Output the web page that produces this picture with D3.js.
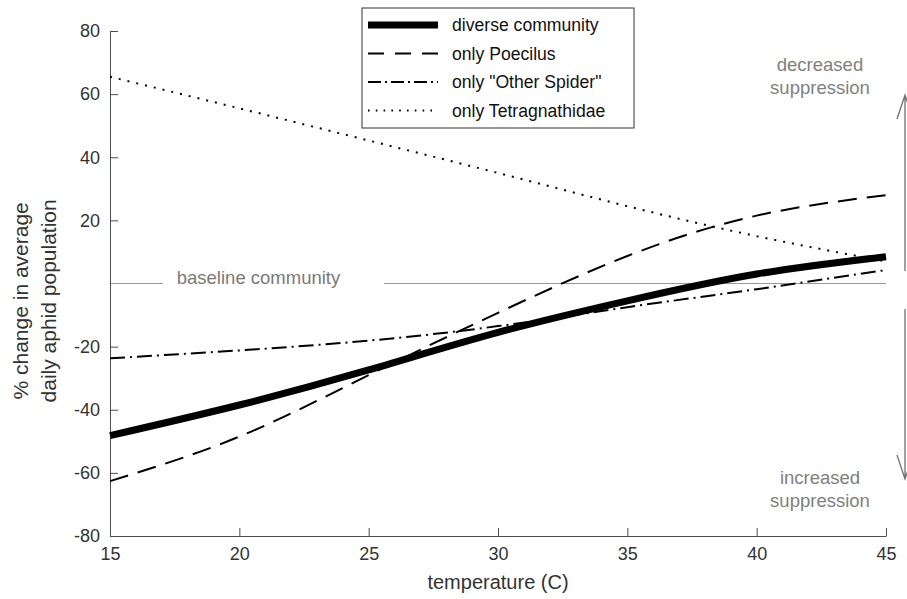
<!DOCTYPE html>
<html>
<head>
<meta charset="utf-8">
<script src="https://cdn.jsdelivr.net/npm/d3@7"></script>
<style>
    body { margin: 0; background: #fff; }
    svg { display: block; font-family: "Liberation Sans", Arial, Helvetica, sans-serif; }
</style>
</head>
<body>
<svg width="907" height="599"></svg>
<script>
const temps = [15, 20, 25, 30, 35, 40, 45];
const diverse = [-48.2, -38.5, -27.4, -15.5, -5.5, 3, 8.5];
const poecilus = [-62.6, -48.5, -29, -9.3, 8.7, 21.5, 28];
const otherSpider = [-23.7, -21.2, -18.1, -13.5, -7.5, -1.8, 4.3];
const tetragnathidae = [65.5, 55.5, 45.3, 35, 24.5, 15, 7];

const seriesNames = ["diverse community", "only Poecilus", 'only "Other Spider"', "only Tetragnathidae"];
const xTicks = [15, 20, 25, 30, 35, 40, 45];
const yTicks = [80, 60, 40, 20, -20, -40, -60, -80];

const styles = [
    { width: 7, dash: null, key: null },
    { width: 2, dash: "19,10", key: "16,11" },
    { width: 2, dash: "15,5,2,5", key: "13,4,2,4" },
    { width: 2, dash: "2,7", key: "1.6,6.2" },
];

const series = [diverse, poecilus, otherSpider, tetragnathidae].map((vals, i) => ({
    name: seriesNames[i],
    style: styles[i],
    points: temps.map((t, j) => ({ x: t, y: vals[j] })),
}));

const svg = d3.select("svg");
const axisColor = "#4d4d4d";
const grey = "#808080";

const x = d3.scaleLinear().domain([15, 45]).range([110, 886]);
const y = d3.scaleLinear().domain([-80, 80]).range([536, 31]);

// baseline community
svg.append("line")
    .attr("x1", x(15)).attr("x2", 163)
    .attr("y1", y(0)).attr("y2", y(0))
    .attr("stroke", "#999").attr("stroke-width", 1);
svg.append("line")
    .attr("x1", 384).attr("x2", x(45))
    .attr("y1", y(0)).attr("y2", y(0))
    .attr("stroke", "#999").attr("stroke-width", 1);
svg.append("text")
    .attr("x", 258.5).attr("y", y(0))
    .attr("text-anchor", "middle")
    .attr("font-size", 18.5)
    .attr("fill", "#7a7a7a")
    .text("baseline community");

// axes
const xAxis = svg.append("g")
    .attr("transform", `translate(0,${y(-80)})`)
    .call(d3.axisBottom(x).tickValues(xTicks).tickFormat((d) => String(d)).tickSizeInner(-8).tickSizeOuter(0).tickPadding(11));
const yAxis = svg.append("g")
    .attr("transform", `translate(${x(15)},0)`)
    .call(d3.axisLeft(y).tickValues(yTicks).tickFormat((d) => String(d)).tickSizeInner(-8).tickSizeOuter(0).tickPadding(10));
[xAxis, yAxis].forEach((g) => {
    g.select(".domain").attr("stroke", axisColor);
    g.selectAll(".tick line").attr("stroke", axisColor);
    g.selectAll(".tick text").attr("fill", "#333").attr("font-size", 18).attr("font-family", null);
});

svg.append("text")
    .attr("x", (x(15) + x(45)) / 2).attr("y", 589)
    .attr("text-anchor", "middle")
    .attr("font-size", 20)
    .attr("fill", "#333")
    .text("temperature (C)");

const yLabel = svg.append("text")
    .attr("transform", `translate(0,${y(-5.5)}) rotate(-90)`)
    .attr("text-anchor", "middle")
    .attr("font-size", 21)
    .attr("fill", "#333");
yLabel.append("tspan").attr("x", 0).attr("y", 28).text("% change in average");
yLabel.append("tspan").attr("x", 0).attr("y", 56).text("daily aphid population");

// curves
const line = d3.line()
    .x((d) => x(d.x))
    .y((d) => y(d.y))
    .curve(d3.curveNatural);

svg.append("g")
    .selectAll("path")
    .data(series.slice().reverse())
    .enter()
    .append("path")
    .attr("d", (d) => line(d.points))
    .attr("fill", "none")
    .attr("stroke", "#000")
    .attr("stroke-width", (d) => d.style.width)
    .attr("stroke-dasharray", (d) => d.style.dash);

// suppression annotations
const notes = [
    { lines: ["decreased", "suppression"], ty: 66, from: 271, to: 95 },
    { lines: ["increased", "suppression"], ty: 479, from: 309, to: 479 },
];
notes.forEach((n) => {
    n.lines.forEach((t, i) => {
        svg.append("text")
            .attr("x", 820).attr("y", n.ty + i * 23)
            .attr("text-anchor", "middle")
            .attr("dominant-baseline", "middle")
            .attr("font-size", 18.5)
            .attr("fill", grey)
            .text(t);
    });
    const dir = n.to < n.from ? 1 : -1;
    svg.append("path")
        .attr("d", `M905,${n.from}L905,${n.to}M897,${n.to + dir * 24}L905,${n.to}L913,${n.to + dir * 24}`)
        .attr("fill", "none")
        .attr("stroke", "#707070")
        .attr("stroke-width", 1.3);
});

// legend
const legend = svg.append("g").attr("transform", "translate(362,8)");
legend.append("rect")
    .attr("width", 272).attr("height", 120)
    .attr("fill", "#fff")
    .attr("stroke", "#333")
    .attr("stroke-width", 1);
const item = legend.selectAll("g.item")
    .data(series)
    .enter()
    .append("g")
    .attr("class", "item")
    .attr("transform", (d, i) => `translate(0,${17 + i * 28.5})`);
item.append("line")
    .attr("x1", 6).attr("x2", 76)
    .attr("stroke", "#000")
    .attr("stroke-width", (d) => d.style.width)
    .attr("stroke-dasharray", (d) => d.style.key);
item.append("text")
    .attr("x", 90)
    .attr("dy", "0.35em")
    .attr("font-size", 17.6)
    .attr("fill", "#111")
    .text((d) => d.name);
</script>
</body>
</html>
